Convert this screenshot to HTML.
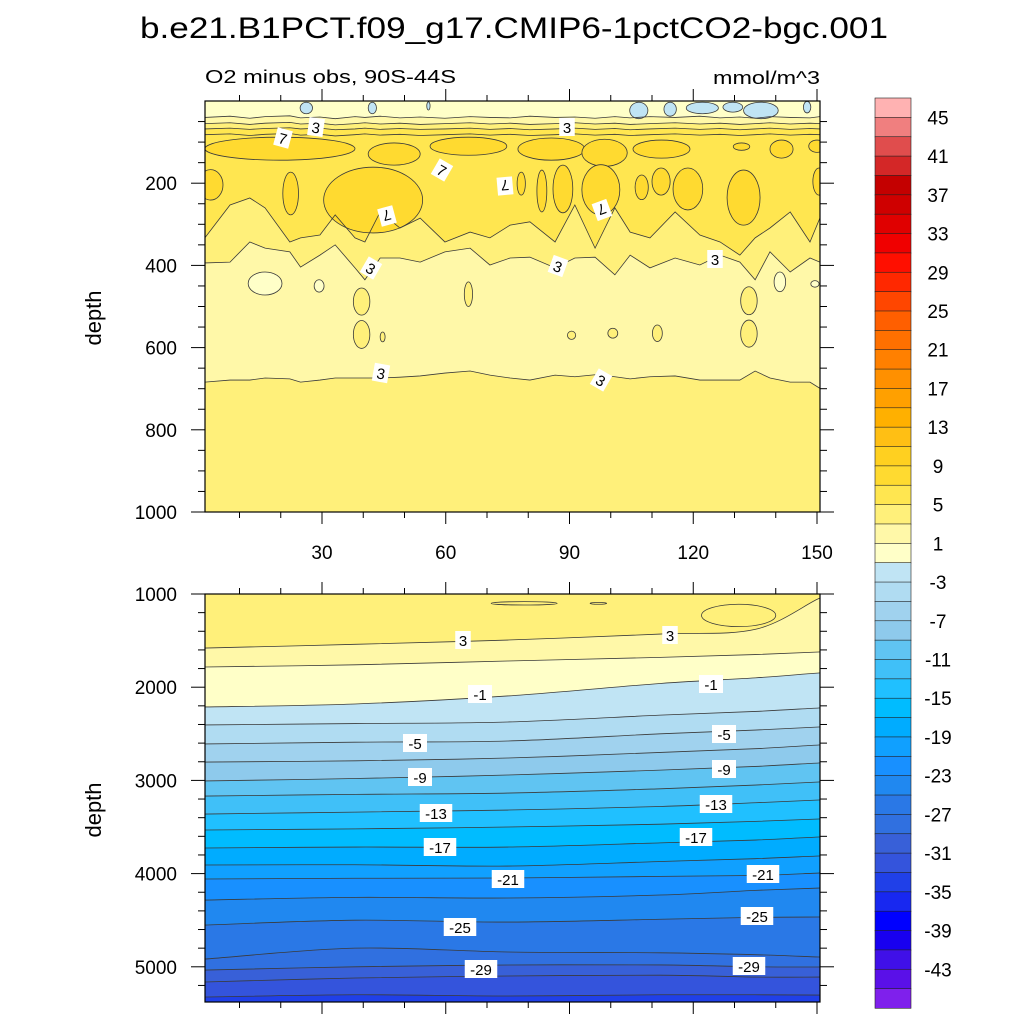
<!DOCTYPE html>
<html><head><meta charset="utf-8"><style>
html,body{margin:0;padding:0;background:#fff;}
svg{display:block;font-family:"Liberation Sans",sans-serif;}
</style></head><body>
<svg id="chart" width="1024" height="1024" viewBox="0 0 1024 1024" xmlns="http://www.w3.org/2000/svg">
<defs>
<clipPath id="clipU"><rect x="205" y="101" width="615" height="411"/></clipPath>
<clipPath id="clipL"><rect x="205" y="594" width="615" height="408"/></clipPath>
</defs>
<text x="140" y="38" font-size="30" textLength="748" lengthAdjust="spacingAndGlyphs">b.e21.B1PCT.f09_g17.CMIP6-1pctCO2-bgc.001</text>
<text x="205" y="83" font-size="18" textLength="251" lengthAdjust="spacingAndGlyphs">O2 minus obs, 90S-44S</text>
<text x="820" y="84" font-size="18" text-anchor="end" textLength="107" lengthAdjust="spacingAndGlyphs">mmol/m^3</text>
<text transform="translate(101,318) rotate(-90)" font-size="22" text-anchor="middle">depth</text>
<text transform="translate(101,810) rotate(-90)" font-size="22" text-anchor="middle">depth</text>
<g id="upper"></g>
<g id="lower"></g>
<g id="cbar"></g>
</svg>
<script>
const colors = ["#ffb2b2","#f07f7f","#e04d4d","#d42727","#c40000","#cf0000","#e00000","#f00000","#ff0f00","#ff2800","#ff4600","#ff5f00","#ff7000","#ff8000","#ff9000","#ffa000","#ffb000","#ffbf14","#ffd020","#ffda30","#ffe650","#fff07a","#fff8a8","#ffffc8","#c0e4f4","#b0dcf2","#a0d2ee","#8ecaec","#60c4f2","#40c0f8","#20c0ff","#00bcff","#00acff","#10a0ff","#1890ff","#2088f0","#2a78e6","#3070e0","#3860d8","#3454dc","#2040e8","#1828f0","#0000ff","#1800f0","#4010e8","#5a10e8","#7f20ec"];
const cbarLabels = [45,41,37,33,29,25,21,17,13,9,5,1,-3,-7,-11,-15,-19,-23,-27,-31,-35,-39,-43];
const xTicks = [30,60,90,120,150];
const upperYTicks = [200,400,600,800,1000];
const lowerYTicks = [1000,2000,3000,4000,5000];

// upper panel data
const uX = [1.6,7.7,12.5,16.2,22.2,24.8,29.5,33.2,38,40.4,44.1,48.9,53.8,59.8,65.9,70.7,75.6,80.4,86.5,91.3,96.2,101,104.7,109.5,115.6,121.6,126.5,131.3,135,138.6,143.5,148.3,150.7];
const top1 = [40,37,42,38,36,41,39,43,38,40,37,41,39,42,38,40,41,37,40,39,42,38,41,38,40,37,41,39,42,38,40,41,38];
const top3 = [55,53,57,54,52,56,54,58,55,53,56,54,57,55,53,56,54,57,55,53,56,54,57,55,53,56,54,57,55,53,56,54,55];
const top5 = [68,66,69,67,65,68,66,70,68,66,69,67,69,68,66,69,67,70,68,66,69,67,70,68,66,69,67,70,68,66,69,67,68];
const top7 = [82,80,84,81,79,83,81,85,82,80,83,81,84,82,80,83,81,84,82,80,83,81,84,82,80,83,81,84,82,80,83,81,82];
const deep5 = [333,253,236,260,343,333,326,277,333,343,270,309,285,343,319,333,302,294,343,253,358,260,319,333,270,326,343,375,333,309,270,343,285];
const deep3 = [394,392,343,358,367,404,375,350,406,435,382,382,392,367,358,399,382,380,406,382,380,423,375,406,382,399,375,392,435,367,416,382,392];
const bottom3 = [684,679,679,674,676,684,679,674,674,674,674,672,669,662,657,667,674,679,667,671,666,671,676,671,669,679,679,679,657,674,684,684,699];
// 7-9 patches (center x, center depth, x radius, depth radius)
const b79X = [19.8,47.5,65.5,85.6,98.5,112.3,131.7,141.4,150,3,22.4,42.4,78.3,83.3,88.4,97.6,107.5,112.2,118.7,132.2,150.5];
const b79D = [116,129,110,117,126,117,111,117,110,204,225,241,201,219,214,216,210,196,214,235,196];
const b79RX = [18.2,6.3,9.3,8.1,5.5,6.9,2,2.8,2,3,1.9,12,1,1.2,2.4,4.6,1.6,2.2,3.6,4,1.5];
const b79RD = [28,27,22,27,33,22,9,22,15,37,52,80,28,51,58,61,30,33,51,67,33];
// near-surface negative spots (-3..-1)
const bluX = [26.2,42.2,55.8,106.8,114.4,122.2,129.6,136.4,147.6];
const bluD = [17,17,12,23,20,17,15,23,15];
const bluRX = [1.5,1,0.4,2.2,1.5,3.9,2.4,4.2,0.9];
const bluRD = [14,14,10,20,17,14,12,20,14];
// pale (-1..1) spots in mid depth
const palX = [16.2,29.3,141,149.5];
const palD = [444,450,440,445];
const palRX = [4.1,1.2,1.4,1];
const palRD = [28,15,24,8];
// 3-5 spots in mid depth
const s35X = [39.6,39.6,44.7,133.5,133.5,90.5,100.5,111.3,65.5];
const s35D = [488,568,574,486,566,570,565,565,470];
const s35RX = [2,2,0.6,2,2,1,1.2,1.2,1];
const s35RD = [33,34,12,34,33,10,12,20,30];

// lower panel data
const lX = [1.6,38,75,112,135,150.4];
const lLevels = [3,1,-1,-3,-5,-7,-9,-11,-13,-15,-17,-19,-21,-23,-25,-27,-29,-31,-33];
const lDepths = [
 [1580,1540,1494,1430,1380,1050],
 [1783,1760,1719,1680,1650,1622],
 [2212,2180,2094,1960,1900,1848],
 [2405,2390,2373,2300,2260,2223],
 [2609,2590,2577,2500,2460,2427],
 [2803,2790,2760,2700,2660,2620],
 [3006,2980,2942,2890,2850,2813],
 [3168,3150,3136,3090,3050,3017],
 [3361,3340,3318,3280,3240,3210],
 [3532,3520,3500,3470,3440,3414],
 [3725,3715,3715,3670,3640,3607],
 [3908,3905,3919,3870,3840,3811],
 [4058,4050,4047,4030,4020,3994],
 [4284,4255,4262,4230,4180,4155],
 [4552,4500,4520,4490,4470,4466],
 [4917,4800,4841,4850,4870,4895],
 [5035,5000,4981,4980,5000,5002],
 [5163,5120,5099,5090,5110,5110],
 [5324,5300,5313,5300,5300,5303]];
const l5X = [79,97,131];
const l5D = [1100,1100,1230];
const l5RX = [8,2,9];
const l5RD = [18,10,120];

const upperLabelText = ["3","3","7","7","7","7","7","3","3","3","3","3"];
const upperLabelX = [316,567,283,442,505,387,602,371,558,715,381,601];
const upperLabelY = [127,127,138,170,186,216,210,268,266,259,373,380];
const upperLabelRot = [8,0,15,30,175,165,160,30,20,0,10,30];
const lowerLabelText = ["3","3","-1","-1","-5","-5","-9","-9","-13","-13","-17","-17","-21","-21","-25","-25","-29","-29"];
const lowerLabelX = [463,670,480,711,415,724,420,724,436,716,440,696,508,763,460,757,481,749];
const lowerLabelY = [640,635,694,684,743,734,777,769,813,804,847,837,879,874,927,916,969,966];

const NS="http://www.w3.org/2000/svg";
function mk(tag, attrs, parent){const e=document.createElementNS(NS,tag);for(const k in attrs)e.setAttribute(k,attrs[k]);parent.appendChild(e);return e;}
const xs = u => 198.25 + u*4.125;
const yU = d => 101 + d*0.411;
const yL = d => 594 + (d-1000)*0.0932;
const cIdx = v => (47 - v)/2;
const LINE="#3a3a3a";

// ---- upper panel
const U = document.getElementById('upper');
const gU = mk('g',{'clip-path':'url(#clipU)'},U);
function bandTop(arr, fill, name){
  let d = `M${xs(-2)},${yU(-10)} L${xs(-2)},${yU(arr[0])}`;
  arr.forEach((v,i)=>{d+=` L${xs(uX[i])},${yU(v)}`;});
  d += ` L${xs(153)},${yU(arr[arr.length-1])} L${xs(153)},${yU(-10)} Z`;
  const p = mk('path',{d:d,fill:fill,stroke:'none'},gU);
  
  
}
function lineU(arr, name){
  let d = `M${xs(-2)},${yU(arr[0])}`;
  arr.forEach((v,i)=>{d+=` L${xs(uX[i])},${yU(v)}`;});
  d += ` L${xs(153)},${yU(arr[arr.length-1])}`;
  const p = mk('path',{d:d,fill:'none',stroke:LINE,'stroke-width':0.8},gU);
  
  
}
const bg = mk('rect',{x:205,y:101,width:615,height:411,fill:colors[21]},gU);


bandTop(bottom3, colors[22], 'upper-band-1-3');
bandTop(deep3, colors[21], 'upper-band-3-5');
bandTop(deep5, colors[20], 'upper-band-5-7');
function blobs(X,D,RX,RD,fill,name,g,yf){
  X.forEach((u,i)=>{
    const e = mk('ellipse',{cx:xs(u),cy:yf(D[i]),rx:RX[i]*4.125,ry:(yf===yU?RD[i]*0.411:RD[i]*0.0932),fill:fill,stroke:LINE,'stroke-width':0.8},g);
    
    
  });
}
blobs(b79X,b79D,b79RX,b79RD,colors[19],'upper-patch-7-9',gU,yU);
bandTop(top5, colors[21], 'upper-band-3-5-surface');
bandTop(top3, colors[22], 'upper-band-1-3-surface');
bandTop(top1, colors[23], 'upper-band-neg1-1-surface');
blobs(bluX,bluD,bluRX,bluRD,colors[24],'upper-spot-negative',gU,yU);
blobs(palX,palD,palRX,palRD,colors[23],'upper-spot-pale',gU,yU);
blobs(s35X,s35D,s35RX,s35RD,colors[21],'upper-spot-3-5',gU,yU);
lineU(top1,'contour-line-1');lineU(top3,'contour-line-3');lineU(top5,'contour-line-5');lineU(top7,'contour-line-7');
lineU(deep5,'contour-line-5-deep');lineU(deep3,'contour-line-3-deep');lineU(bottom3,'contour-line-3-bottom');

// ---- lower panel
const L = document.getElementById('lower');
const gL = mk('g',{'clip-path':'url(#clipL)'},L);
function smoothPath(arr){
  const pts = arr.map((v,i)=>[xs(lX[i]),yL(v)]);
  pts.unshift([xs(-2),pts[0][1]]);pts.push([xs(153),pts[pts.length-1][1]]);
  let d=`M${pts[0][0]},${pts[0][1]}`;
  for(let i=0;i<pts.length-1;i++){
    const p0=pts[Math.max(0,i-1)],p1=pts[i],p2=pts[i+1],p3=pts[Math.min(pts.length-1,i+2)];
    d+=` C${p1[0]+(p2[0]-p0[0])/6},${p1[1]+(p2[1]-p0[1])/6} ${p2[0]-(p3[0]-p1[0])/6},${p2[1]-(p3[1]-p1[1])/6} ${p2[0]},${p2[1]}`;
  }
  return d;
}
const bgL = mk('rect',{x:205,y:594,width:615,height:408,fill:colors[21]},gL);


lLevels.forEach((v,i)=>{
  const d = smoothPath(lDepths[i]) + ` L${xs(153)},1010 L${xs(-2)},1010 Z`;
  const p = mk('path',{d:d,fill:colors[cIdx(v)],stroke:'none'},gL);
  
  
});
blobs(l5X,l5D,l5RX,l5RD,colors[21],'lower-patch-3-5',gL,yL);
lLevels.forEach((v,i)=>{
  const p = mk('path',{d:smoothPath(lDepths[i]),fill:'none',stroke:LINE,'stroke-width':0.8},gL);
  
  
});

// contour labels
function label(g,t,x,y,r,name){
  const w = 7+t.length*8.5;
  const gg = mk('g',{transform:`translate(${x},${y}) rotate(${r})`},g);
  
  
  mk('rect',{x:-w/2,y:-9,width:w,height:18,fill:'#fff'},gg);
  const tx = mk('text',{x:0,y:6,'font-size':15,'text-anchor':'middle',fill:'#000'},gg);
  tx.textContent=t;
}
upperLabelText.forEach((t,i)=>label(U,t,upperLabelX[i],upperLabelY[i],upperLabelRot[i],'contour-label'));
lowerLabelText.forEach((t,i)=>label(L,t,lowerLabelX[i],lowerLabelY[i],0,'contour-label'));

// frames & ticks
function frame(g,y0,y1,yTicks,yf,minorStep,minorMax,minorMin,showX){
  const f = mk('rect',{x:205,y:y0,width:615,height:y1-y0,fill:'none',stroke:'#000','stroke-width':1.2},g);
  
  
  for(let u=10;u<=150;u+=10){
    const major = xTicks.includes(u), len = major?12:6, x=xs(u);
    mk('line',{x1:x,x2:x,y1:y0,y2:y0-len,stroke:'#000','stroke-width':1},g);
    mk('line',{x1:x,x2:x,y1:y1,y2:y1+len,stroke:'#000','stroke-width':1},g);
  }
  if(showX) xTicks.forEach(u=>{const t=mk('text',{x:xs(u),y:y1+47,'font-size':19,'text-anchor':'middle'},g);t.textContent=u;
    
    });
  for(let d=minorMin; d<=minorMax; d+=minorStep){
    const y=yf(d); if(y<y0-0.5||y>y1+0.5) continue;
    const major = yTicks.includes(d), len=major?14:7;
    mk('line',{x1:205,x2:205-len,y1:y,y2:y,stroke:'#000','stroke-width':1},g);
    mk('line',{x1:820,x2:820+len,y1:y,y2:y,stroke:'#000','stroke-width':1},g);
  }
  yTicks.forEach(d=>{const t=mk('text',{x:177,y:yf(d)+7,'font-size':19,'text-anchor':'end'},g);t.textContent=d;
    
    });
}
frame(U,101,512,upperYTicks,yU,50,1000,50,true);
frame(L,594,1002,lowerYTicks,yL,200,5400,1000,false);

// colorbar
const C = document.getElementById('cbar');
const cb0=98, cbH=910/47;
colors.forEach((c,i)=>{
  const r = mk('rect',{x:875,y:cb0+i*cbH,width:36,height:cbH+0.3,fill:c,stroke:'#222','stroke-width':0.6},C);
  
  
});
cbarLabels.forEach(v=>{
  const k = (47 - v)/2;
  const t = mk('text',{x:938,y:cb0+k*cbH+7,'font-size':19,'text-anchor':'middle'},C);
  t.textContent=v;
  
  
});
</script>
</body></html>
